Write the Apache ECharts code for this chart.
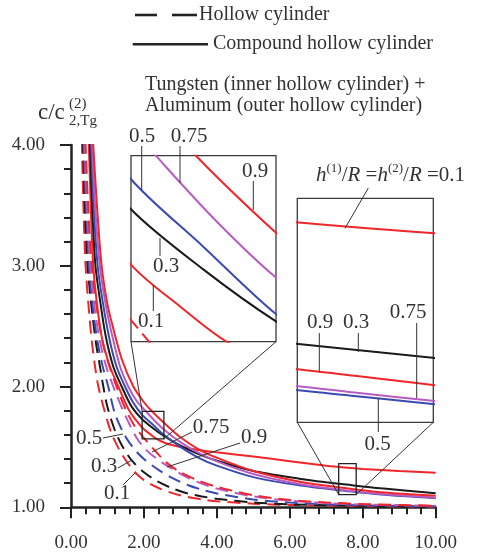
<!DOCTYPE html>
<html><head><meta charset="utf-8">
<script src="https://cdn.jsdelivr.net/npm/echarts/dist/echarts.min.js"></script>
<style>html,body{margin:0;padding:0;background:#fff}#c{width:479px;height:558px}</style>
</head><body><div id="c"></div>
<script>
// ---------- data (x = abscissa, y = c/c(2)_2,Tg) ----------
// Compound hollow cylinder (solid lines)
const solid01  = [[0.46,4.15],[0.49,4.0],[0.54,3.5],[0.61,3.0],[0.70,2.716],[0.85,2.4],[1.07,2.164],[1.30,2.0],[1.6,1.80],[1.951,1.661],[2.15,1.61],[2.344,1.566],[2.6,1.53],[3.0,1.50],[3.5,1.475],[4.0,1.455],[5.0,1.42],[6.0,1.382],[7.0,1.345],[7.5,1.330],[8.0,1.318],[9.0,1.30],[10,1.286]];
const solid03  = [[0.49,4.15],[0.52,4.0],[0.58,3.5],[0.67,3.0],[0.795,2.716],[0.95,2.42],[1.16,2.164],[1.39,2.0],[1.65,1.84],[1.951,1.729],[2.248,1.655],[2.547,1.591],[3.0,1.51],[3.5,1.44],[4.0,1.385],[5.0,1.30],[6.3,1.235],[7.0,1.207],[7.55,1.188],[8.5,1.157],[10,1.116]];
const solid05  = [[0.52,4.15],[0.55,4.0],[0.62,3.5],[0.73,3.0],[0.86,2.72],[1.05,2.4],[1.25,2.164],[1.48,2.0],[1.7,1.87],[1.951,1.766],[2.248,1.683],[2.547,1.60],[3.0,1.50],[3.5,1.41],[4.0,1.345],[5.0,1.25],[6.3,1.18],[7.55,1.135],[8.5,1.105],[10,1.075]];
const solid075 = [[0.55,4.15],[0.58,4.0],[0.66,3.5],[0.79,3.0],[0.95,2.68],[1.1,2.46],[1.34,2.17],[1.57,2.0],[1.8,1.88],[2.053,1.795],[2.3,1.715],[2.547,1.645],[3.0,1.54],[3.5,1.45],[4.0,1.38],[5.0,1.275],[6.3,1.19],[7.55,1.139],[8.5,1.11],[10,1.08]];
const solid09  = [[0.58,4.15],[0.61,4.0],[0.7,3.55],[0.84,3.0],[1.0,2.68],[1.15,2.49],[1.4,2.22],[1.71,2.0],[2.0,1.87],[2.218,1.795],[2.547,1.70],[3.0,1.58],[3.5,1.48],[4.0,1.41],[5.0,1.30],[6.3,1.21],[7.55,1.158],[8.5,1.125],[10,1.095]];
// Hollow cylinder (dashed lines)
const dashed01  = [[0.28,4.2],[0.30,4.0],[0.34,3.5],[0.40,3.0],[0.50,2.6],[0.58,2.35],[0.66,2.164],[0.75,2.0],[0.9,1.82],[1.1,1.62],[1.3,1.49],[1.5,1.39],[1.755,1.29],[2.0,1.225],[2.4,1.16],[2.8,1.115],[3.2,1.085],[3.6,1.065],[4.0,1.05],[5.0,1.03],[6.0,1.02],[8.0,1.01],[10,1.005]];
const dashed03  = [[0.31,4.2],[0.33,4.0],[0.38,3.5],[0.455,3.0],[0.585,2.6],[0.69,2.35],[0.795,2.164],[0.886,2.0],[1.0,1.83],[1.2,1.64],[1.4,1.51],[1.66,1.39],[2.0,1.29],[2.4,1.21],[2.8,1.155],[3.2,1.115],[3.6,1.09],[4.0,1.07],[5.0,1.04],[6.0,1.025],[8.0,1.012],[10,1.006]];
const dashed05  = [[0.33,4.2],[0.35,4.0],[0.41,3.5],[0.49,3.0],[0.62,2.6],[0.74,2.35],[0.87,2.164],[1.02,2.0],[1.2,1.78],[1.43,1.62],[1.6,1.535],[1.8,1.46],[2.0,1.40],[2.4,1.31],[2.8,1.24],[3.2,1.185],[3.6,1.145],[4.0,1.115],[5.0,1.065],[6.0,1.04],[7.0,1.025],[8.0,1.016],[10,1.008]];
const dashed075 = [[0.35,4.2],[0.37,4.0],[0.44,3.5],[0.53,3.0],[0.67,2.6],[0.81,2.35],[0.96,2.17],[1.16,2.0],[1.4,1.82],[1.6,1.69],[1.81,1.57],[2.0,1.495],[2.21,1.435],[2.5,1.37],[2.8,1.315],[3.2,1.245],[3.6,1.195],[4.0,1.155],[5.0,1.09],[6.0,1.055],[7.0,1.035],[8.0,1.024],[10,1.012]];
const dashed09  = [[0.38,4.2],[0.40,4.0],[0.47,3.5],[0.57,3.0],[0.73,2.6],[0.88,2.35],[1.05,2.17],[1.25,2.0],[1.5,1.81],[1.75,1.67],[2.0,1.575],[2.3,1.47],[2.62,1.37],[3.0,1.29],[3.5,1.22],[4.0,1.17],[5.0,1.10],[6.0,1.06],[7.0,1.04],[8.0,1.027],[10,1.013]];

const X_TICK_LABELS = ['0.00','2.00','4.00','6.00','8.00','10.00'];
const Y_TICK_LABELS = ['1.00','2.00','3.00','4.00'];
// zoom windows shown in the two insets (data ranges)
const INSET1_X = [1.951, 2.547], INSET1_Y = [1.566, 1.795];
const INSET2_X = [7.34, 7.82],  INSET2_Y = [1.105, 1.362];

// ---------- styling ----------
const FF = '"Liberation Serif","Times New Roman",serif';
const RED = '#f0262a', BLACK = '#1a1a1a', BLUE = '#3b4ab2', MAG = '#b85cc4', INK = '#333';

const curves = [
  {d: dashed01, c: RED, dash: true}, {d: dashed03, c: BLACK, dash: true}, {d: dashed05, c: BLUE, dash: true},
  {d: dashed075, c: MAG, dash: true}, {d: dashed09, c: RED, dash: true},
  {d: solid01, c: RED}, {d: solid03, c: BLACK}, {d: solid05, c: BLUE}, {d: solid075, c: MAG}, {d: solid09, c: RED}
];
function mk(cv, gi) {
  return {type: 'line', data: cv.d, xAxisIndex: gi, yAxisIndex: gi, smooth: 0.3, symbol: 'none',
    clip: true, silent: true, animation: false,
    lineStyle: {color: cv.c, width: 2, type: cv.dash ? [13, 7] : 'solid'}};
}
const series = [];
curves.forEach(cv => series.push(mk(cv, 0)));
curves.forEach(cv => series.push(mk(cv, 1)));
curves.filter(cv => !cv.dash).forEach(cv => series.push(mk(cv, 2)));

const axisCommon = {
  axisLine: {lineStyle: {color: '#222', width: 2.5}},
  axisTick: {length: 11, lineStyle: {color: '#222', width: 2}},
  minorTick: {show: true, splitNumber: 5, length: 7, lineStyle: {color: '#222', width: 2}},
  splitLine: {show: false}, minorSplitLine: {show: false}
};
const hid = {show: false};

const chart = echarts.init(document.getElementById('c'), null, {renderer: 'canvas'});
chart.setOption({
  animation: false,
  grid: [
    {left: 71, top: 145, right: 43.3, bottom: 50.7},
    {left: 131, top: 155.7, width: 145, height: 186, show: true, borderColor: '#3a3a3a', borderWidth: 1.3, backgroundColor: '#fff'},
    {left: 297.3, top: 198.3, width: 136, height: 224, show: true, borderColor: '#3a3a3a', borderWidth: 1.3, backgroundColor: '#fff'}
  ],
  xAxis: [
    Object.assign({gridIndex: 0, type: 'value', min: 0, max: 10, interval: 2,
      axisLabel: {formatter: v => X_TICK_LABELS[Math.round(v / 2)], fontFamily: FF, fontSize: 19, color: INK, margin: 26}}, axisCommon),
    Object.assign({gridIndex: 1, type: 'value', min: INSET1_X[0], max: INSET1_X[1]}, hid),
    Object.assign({gridIndex: 2, type: 'value', min: INSET2_X[0], max: INSET2_X[1]}, hid)
  ],
  yAxis: [
    Object.assign({gridIndex: 0, type: 'value', min: 1, max: 4, interval: 1,
      axisLabel: {formatter: v => Y_TICK_LABELS[Math.round(v - 1)], fontFamily: FF, fontSize: 19, color: INK, margin: 26}}, axisCommon),
    Object.assign({gridIndex: 1, type: 'value', min: INSET1_Y[0], max: INSET1_Y[1]}, hid),
    Object.assign({gridIndex: 2, type: 'value', min: INSET2_Y[0], max: INSET2_Y[1]}, hid)
  ],
  series: series
});

// ---------- annotations ----------
function P(gi, x, y) { return chart.convertToPixel({xAxisIndex: gi, yAxisIndex: gi}, [x, y]); }
const G = [];
function line(x1, y1, x2, y2, w, col, dash) {
  G.push({type: 'line', silent: true, z: 50, shape: {x1, y1, x2, y2},
    style: {stroke: col || INK, lineWidth: w || 1, lineDash: dash || null}});
}
function txt(s, x, y, size, align, extra) {
  G.push({type: 'text', silent: true, z: 50, x, y,
    style: Object.assign({text: s, font: size + 'px ' + FF, fill: INK, textAlign: align || 'center', textVerticalAlign: 'middle'}, extra || {})});
}
// zoom boxes and connectors
const b1tl = P(0, INSET1_X[0], INSET1_Y[1]), b1br = P(0, INSET1_X[1], INSET1_Y[0]);
const i1bl = P(1, INSET1_X[0], INSET1_Y[0]), i1br = P(1, INSET1_X[1], INSET1_Y[0]);
G.push({type: 'rect', silent: true, z: 50, shape: {x: b1tl[0], y: b1tl[1], width: b1br[0] - b1tl[0], height: b1br[1] - b1tl[1]}, style: {fill: null, stroke: '#222', lineWidth: 1.3}});
line(i1bl[0], i1bl[1], b1tl[0], b1tl[1]);
line(i1br[0], i1br[1], b1br[0], b1br[1]);
const b2tl = P(0, INSET2_X[0], INSET2_Y[1]), b2br = P(0, INSET2_X[1], INSET2_Y[0]);
const i2bl = P(2, INSET2_X[0], INSET2_Y[0]), i2br = P(2, INSET2_X[1], INSET2_Y[0]);
G.push({type: 'rect', silent: true, z: 50, shape: {x: b2tl[0], y: b2tl[1], width: b2br[0] - b2tl[0], height: b2br[1] - b2tl[1]}, style: {fill: null, stroke: '#222', lineWidth: 1.3}});
line(i2bl[0], i2bl[1], b2tl[0], b2br[1]);
line(i2br[0], i2br[1], b2br[0], b2br[1]);

// legend
line(135, 15, 157, 15, 2.6, '#222');
line(172, 15, 197, 15, 2.6, '#222');
txt('Hollow cylinder', 199, 15, 20, 'left');
line(132.7, 44.3, 208, 44.3, 2.6, '#222');
txt('Compound hollow cylinder', 213, 44, 20, 'left');
txt('Tungsten (inner hollow cylinder) +', 145, 85, 20, 'left');
txt('Aluminum (outer hollow cylinder)', 145, 106, 20, 'left');
// y axis name
txt('c/c', 38, 113, 23, 'left');
txt('(2)', 69, 104, 15, 'left');
txt('2,Tg', 69, 121, 15, 'left');

// main-plot labels
txt('0.5', 89, 438, 21); line(103, 438, 123, 434);
txt('0.3', 104, 466, 21); line(118, 468, 132, 460);
txt('0.1', 117, 493, 21); line(123, 485, 135, 473);
txt('0.75', 211, 427, 21); line(192, 432, 152, 452);
txt('0.9', 254, 437, 21); line(240, 443, 167, 467);
// inset 1 labels
txt('0.5', 142, 136, 21); line(141.7, 146, 141.7, 190);
txt('0.75', 189, 136, 21); line(180, 146, 180, 183);
txt('0.9', 255, 171, 21); line(253.3, 181, 253.3, 210);
txt('0.3', 166, 266, 21); line(160, 238, 160, 256);
txt('0.1', 151, 321, 21); line(153.3, 285, 153.3, 311);
// inset 2 labels
G.push({type: 'text', silent: true, z: 50, x: 316, y: 174, style: {
  text: '{i|h}{s|(1)}{n|/}{i|R}{n| =}{i|h}{s|(2)}{n|/}{i|R}{n| =0.1}',
  textAlign: 'left', textVerticalAlign: 'middle', fill: INK,
  rich: {
    i: {fontFamily: FF, fontSize: 21, fontStyle: 'italic', lineHeight: 24, verticalAlign: 'bottom', fill: INK},
    n: {fontFamily: FF, fontSize: 21, lineHeight: 24, verticalAlign: 'bottom', fill: INK},
    s: {fontFamily: FF, fontSize: 13, lineHeight: 13, verticalAlign: 'top', fill: INK}
  }}});
line(368.3, 188, 345, 228.3);
txt('0.9', 320, 322, 21); line(319.3, 333, 319.3, 372);
txt('0.3', 356, 322, 21); line(358.3, 333, 358.3, 352);
txt('0.75', 408, 312, 21); line(416.7, 323, 416.7, 398);
txt('0.5', 377.5, 444, 21); line(378.3, 398, 378.3, 432);

chart.setOption({graphic: G});
</script></body></html>
